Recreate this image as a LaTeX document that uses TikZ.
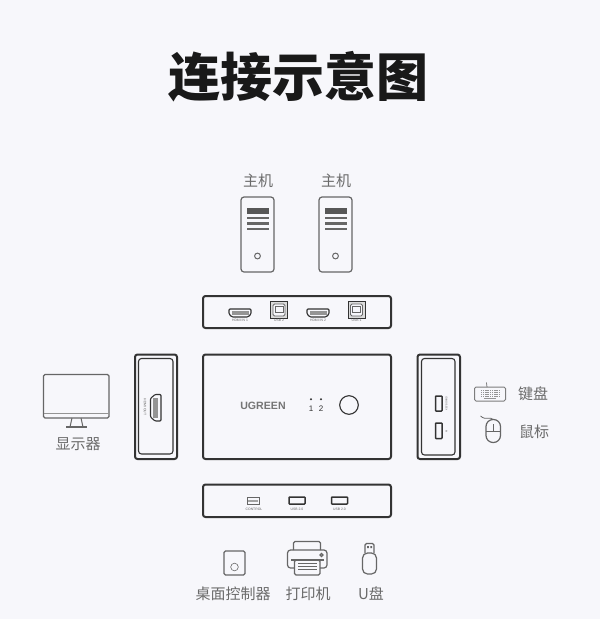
\documentclass[tikz,border=0pt]{standalone}
\usepackage{fontspec}
\setmainfont{Liberation Sans}
\newfontfamily\cjk{Noto Sans CJK SC}
\definecolor{bgc}{HTML}{F7F7FB}
\definecolor{panel}{HTML}{333333}
\definecolor{icon}{HTML}{666666}
\definecolor{lab}{HTML}{6A6A6A}
\tikzset{
  panelbox/.style={draw=panel,line width=2pt,rounded corners=2.5pt},
  innerbox/.style={draw=panel,line width=1.1pt,rounded corners=3pt},
  iconline/.style={draw=icon,line width=1.2pt,rounded corners=1.5pt},
  portline/.style={draw=panel,line width=1.5pt,rounded corners=.6pt},
  cjklabel/.style={text=lab,inner sep=0pt,font=\cjk\fontsize{15}{15}\selectfont},
  tiny/.style={text=icon,inner sep=0pt,font=\fontsize{3.4}{3.4}\selectfont},
}
\newcommand{\hosticon}[1]{%
  \draw[iconline,rounded corners=3pt] (#1-16.5,197) rectangle (#1+16.5,272);
  \fill[icon!85!black] (#1-11,207.5) rectangle (#1+11,213.5);
  \foreach \yy in {218,223.5,229}{\fill[icon] (#1-11,\yy-1.2) rectangle (#1+11,\yy+1.2);}
  \draw[icon,line width=1pt] (#1,256) circle (2.9);
}
\newcommand{\hdmiport}[1]{%
  \draw[panel,line width=1.1pt,line join=round,rounded corners=1pt] (#1-11,309) -- (#1+11,309) -- (#1+11,314) -- (#1+8,317) -- (#1-8,317) -- (#1-11,314) -- cycle;
  \fill[icon!70] (#1-8.5,311) rectangle (#1+8.5,314.5);
}
\newcommand{\usbb}[1]{%
  \draw[panel,line width=.9pt,fill=black!14] (#1-8.5,301) rectangle (#1+8.5,318);
  \draw[icon,line width=.8pt,rounded corners=1.5pt,fill=bgc] (#1-6,304) rectangle (#1+6,316);
  \draw[icon,line width=.7pt] (#1-4,306.5) rectangle (#1+4,312);
}
\begin{document}
\begin{tikzpicture}[x=1pt,y=-1pt]
\path[use as bounding box,fill=bgc] (0,0) rectangle (600,619);
% title
\node[inner sep=0pt,text=black!90] (title) at (298,77) {\cjk\bfseries\fontsize{52}{52}\selectfont 连接示意图};
% hosts
\node[cjklabel] (hostA) at (258,180.5) {主机};
\node[cjklabel] (hostB) at (336,180.5) {主机};
\hosticon{257.5}
\hosticon{335.5}
% back panel
\draw[panelbox] (203,296) rectangle (391,328);
\hdmiport{240}\usbb{279}\hdmiport{318}\usbb{356.5}
\node[tiny] (lb1) at (240,320.5) {HDMI IN 1};
\node[tiny] (lb2) at (279,320.5) {USB 2};
\node[tiny] (lb3) at (318,320.5) {HDMI IN 2};
\node[tiny] (lb4) at (356.5,320.5) {USB 1};
% left panel
\draw[panelbox] (135,354.5) rectangle (177,459);
\draw[innerbox] (138.5,358.5) rectangle (173,454);
\draw[panel,line width=1.1pt,line join=round,rounded corners=1pt] (155,394.5) -- (161,394.5) -- (161,421) -- (155,421) -- (150.5,417) -- (150.5,398.5) -- cycle;
\fill[icon!70] (153,398) rectangle (157.5,417.5);
\node[tiny,rotate=-90] (lhdmi) at (145,407) {HDMI OUT};
% monitor
\draw[iconline,line width=1.4pt] (43.5,374.5) rectangle (109,418);
\draw[icon!70,line width=.8pt] (44,413.5) -- (108.5,413.5);
\draw[icon,line width=1pt] (72,418) -- (70,427) (81,418) -- (83,427);
\draw[icon,line width=1.5pt] (66,427) -- (87,427);
\node[cjklabel] (disp) at (78,444.5) {显示器};
% main
\draw[panelbox] (203,354.5) rectangle (391,459);
\node[inner sep=0pt,text=icon!90,font=\bfseries\fontsize{10.6}{10.6}\selectfont] (logo) at (263,405.5) {UGREEN};
\fill[panel] (311,399.3) circle (1.1) (321,399.3) circle (1.1);
\node[inner sep=0pt,text=panel,font=\fontsize{8}{8}\selectfont] (n1) at (311,409) {1};
\node[inner sep=0pt,text=panel,font=\fontsize{8}{8}\selectfont] (n2) at (321,409) {2};
\draw[panel,line width=1.1pt] (349,405) circle (9.3);
% right panel
\draw[panelbox] (417.5,354.5) rectangle (460,459);
\draw[innerbox] (421.5,358.5) rectangle (455,455);
\draw[portline] (435.5,396) rectangle (442,411);
\draw[portline] (435.5,423) rectangle (442,438.5);
\node[tiny,rotate=90,font=\fontsize{2.6}{2.6}\selectfont] (lr1) at (446.5,403.5) {KEYBOARD};
\node[tiny,rotate=90,font=\fontsize{2.6}{2.6}\selectfont] (lr2) at (446.5,431) {M};
% keyboard
\draw[iconline,line width=1pt,draw=icon!85] (474.5,387) rectangle (505.5,401);
\draw[icon,line width=.7pt] (487,387) .. controls (487,385) and (486,384.5) .. (486.5,382.5);
\foreach \kx in {481,482.8,...,499.5}{\foreach \ky in {390,392,394,396}{\fill[icon!70] (\kx,\ky) rectangle +(1.1,1.1);}}
\fill[icon!70] (484,398) rectangle (496,398.9);
\node[cjklabel] (kb) at (533,394) {键盘};
% mouse
\draw[iconline,rounded corners=7pt] (486,419.5) rectangle (500.5,442.5);
\draw[icon,line width=.8pt] (486,431) -- (500.5,431) (493.2,424) -- (493.2,431);
\draw[icon,line width=.8pt] (493.2,419.5) .. controls (490,416) and (486,421) .. (480.5,416);
\node[cjklabel] (ms) at (534,431.5) {鼠标};
% bottom panel
\draw[panelbox] (203,484.5) rectangle (391,517);
\draw[icon,line width=.7pt] (247,497) rectangle (259,504);
\fill[icon!60] (248,500) rectangle (258,501.5);
\draw[portline] (289,497) rectangle (305,504);
\draw[portline] (331.5,497) rectangle (347.5,504);
\node[tiny,text=icon] (lc) at (254,509) {CONTROL};
\node[tiny] (lu1) at (297,509) {USB 2.0};
\node[tiny] (lu2) at (339.5,509) {USB 2.0};
% controller
\draw[iconline] (224,551) rectangle (245,575);
\draw[icon,line width=.6pt] (234.5,567) circle (3.8);
% printer
\draw[iconline] (293.5,550) -- (293.5,541.5) -- (320.5,541.5) -- (320.5,550);
\draw[iconline,rounded corners=3pt] (294,568) -- (287.5,568) -- (287.5,550) -- (327,550) -- (327,568) -- (320,568);
\draw[iconline,line width=1.3pt] (294.5,560) rectangle (320,575);
\fill[icon] (291,559) rectangle (323.5,560.6);
\foreach \yy in {563.5,566.5,569.5}{\draw[icon,line width=.8pt] (298,\yy) -- (316.5,\yy);}
\draw[icon,line width=1.1pt] (321.5,555) circle (1.5);
% usb stick
\draw[iconline] (365,553) -- (365,543.5) -- (374,543.5) -- (374,553);
\draw[iconline,rounded corners=5pt] (362.5,553) rectangle (376.5,574);
\fill[icon] (367,546) rectangle (368.8,548) (370.3,546) rectangle (372.1,548);
% bottom labels
\node[cjklabel] (ctl) at (233,594) {桌面控制器};
\node[cjklabel] (prn) at (308,594) {打印机};
\node[cjklabel] (udisk) at (371,594) {U盘};
\end{tikzpicture}
\end{document}
